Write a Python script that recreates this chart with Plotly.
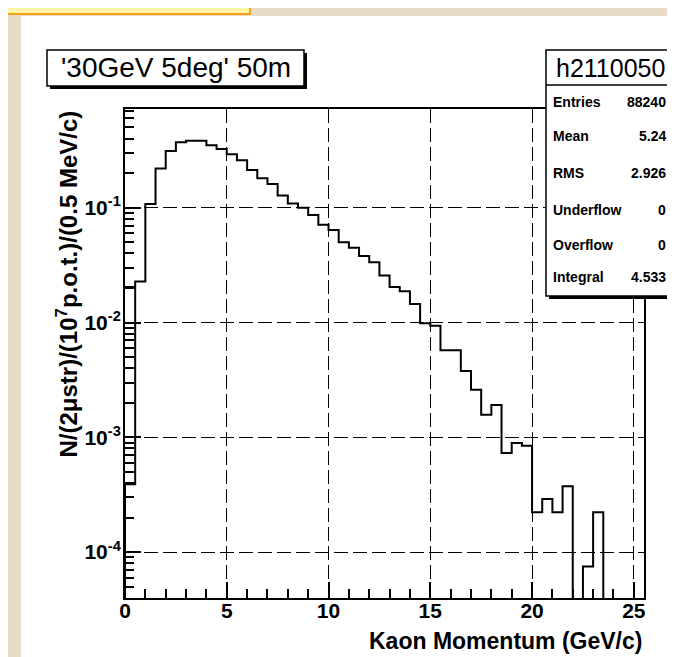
import math
import plotly.graph_objects as go

# ---------------- data ----------------
bin_width = 0.5
bin_low_edge = 0.0
# bin contents, 51 bins of 0.5 GeV/c from 0 to 25.5
counts = [
    0.0204, 0.0228, 0.108, 0.220, 0.312, 0.371, 0.383, 0.383, 0.350, 0.325,
    0.292, 0.259, 0.213, 0.181, 0.161, 0.128, 0.109, 0.100, 0.0866, 0.0712,
    0.0638, 0.0501, 0.0447, 0.0379, 0.0335, 0.0257, 0.0204, 0.0187, 0.0145, 0.00984,
    0.00935, 0.00573, 0.00573, 0.00378, 0.00260, 0.00157, 0.00191, 0.000730, 0.000892, 0.000845,
    0.000222, 0.000290, 0.000222, 0.000374, 0.0, 0.000075, 0.000222, 0.0, 0.0, 0.0,
    0.0,
]
first_bin_low = 0.00039   # lower outline drawn inside the first bin

x_ticks = [0, 5, 10, 15, 20, 25]
y_ticks = [1e-4, 1e-3, 1e-2, 1e-1]
y_tick_text = ["10<sup>-4</sup>", "10<sup>-3</sup>", "10<sup>-2</sup>", "10<sup>-1</sup>"]

title_text = "'30GeV 5deg' 50m"
hist_name = "h2110050"
stat_labels = ["Entries", "Mean", "RMS", "Underflow", "Overflow", "Integral"]
stat_values = ["88240", "5.24", "2.926", "0", "0", "4.533"]
x_title = "Kaon Momentum (GeV/c)"
y_title = "N/(2\u03bcstr)/(10<sup>7</sup>p.o.t.)/(0.5 MeV/c)"

# ---------------- layout geometry ----------------
FW, FH = 675, 657
L, R, T, B = 117, 636, 101, 590
x_range = [0, 25.5]
y_range = [-4.4, -0.14]
floor = 10 ** (y_range[0] - 1)

def pxx(x):
    return (x - L) / (R - L)

def pyy(y):
    return (B - y) / (B - T)

# ---------------- histogram path ----------------
n = len(counts)
edges = [bin_low_edge + i * bin_width for i in range(n + 1)]
vals = [c if c > 0 else floor for c in counts]
xs = [edges[0], edges[0], edges[1], edges[1], edges[0], edges[1]]
ys = [floor, first_bin_low, first_bin_low, vals[0], vals[0], vals[0]]
for i in range(1, n):
    xs += [edges[i], edges[i + 1]]
    ys += [vals[i], vals[i]]
xs.append(edges[-1])
ys.append(floor)

fig = go.Figure()
fig.add_trace(go.Scatter(x=xs, y=ys, mode="lines",
                         line=dict(color="black", width=2),
                         hoverinfo="skip", showlegend=False))

minor_y = [k * 10 ** e for e in range(-5, 0) for k in range(2, 10)
           if y_range[0] <= math.log10(k * 10 ** e) <= y_range[1]]

bold = dict(family="Arial", size=21, color="black", weight="bold")

fig.update_xaxes(range=x_range, tickvals=x_ticks, ticktext=[str(v) for v in x_ticks],
                 ticks="inside", ticklen=16, tickwidth=1.5, tickcolor="black",
                 showline=True, mirror=True, linecolor="black", linewidth=2,
                 showgrid=True, gridcolor="black", gridwidth=1.3, griddash="14px,5px",
                 zeroline=False, tickfont=bold, ticklabelstandoff=-7,
                 minor=dict(dtick=1, ticks="inside", ticklen=9, tickwidth=1.5,
                            tickcolor="black", showgrid=False))
fig.update_yaxes(type="log", range=y_range, tickvals=y_ticks, ticktext=y_tick_text,
                 ticks="inside", ticklen=16, tickwidth=1.5, tickcolor="black",
                 showline=True, mirror=True, linecolor="black", linewidth=2,
                 showgrid=True, gridcolor="black", gridwidth=1.3, griddash="14px,5px",
                 zeroline=False, tickfont=bold, ticklabelstandoff=-2,
                 minor=dict(tickmode="array", tickvals=minor_y, ticks="inside", ticklen=9,
                            tickwidth=1.5, tickcolor="black", showgrid=False))

shapes = []
# background paper texture strips
beige = "#E8DCC6"
shapes.append(dict(type="rect", xref="paper", yref="paper", layer="below",
                   x0=pxx(0), x1=pxx(FW), y0=pyy(0), y1=pyy(8), fillcolor=beige, line_width=0))
shapes.append(dict(type="rect", xref="paper", yref="paper", layer="below",
                   x0=pxx(0), x1=pxx(13), y0=pyy(0), y1=pyy(FH), fillcolor=beige, line_width=0))
shapes.append(dict(type="rect", xref="paper", yref="paper", layer="below",
                   x0=pxx(-5), x1=pxx(242), y0=pyy(-5), y1=pyy(6), fillcolor="#FFF6A6",
                   line=dict(color="#F6A11E", width=2)))
# title box with shadow
shapes.append(dict(type="rect", xref="paper", yref="paper", layer="above",
                   x0=pxx(42), x1=pxx(299), y0=pyy(45), y1=pyy(81), fillcolor="black", line_width=0))
shapes.append(dict(type="rect", xref="paper", yref="paper", layer="above",
                   x0=pxx(39), x1=pxx(296), y0=pyy(42), y1=pyy(78), fillcolor="white",
                   line=dict(color="black", width=1.5)))
# stats box with shadow
shapes.append(dict(type="rect", xref="paper", yref="paper", layer="above",
                   x0=pxx(541), x1=pxx(670), y0=pyy(45), y1=pyy(291), fillcolor="black", line_width=0))
shapes.append(dict(type="rect", xref="paper", yref="paper", layer="above",
                   x0=pxx(538), x1=pxx(667), y0=pyy(42), y1=pyy(288), fillcolor="white",
                   line=dict(color="black", width=1.5)))
shapes.append(dict(type="line", xref="paper", yref="paper", layer="above",
                   x0=pxx(538), x1=pxx(667), y0=pyy(77), y1=pyy(77),
                   line=dict(color="black", width=1.5)))

ann = []
ann.append(dict(text=title_text, xref="paper", yref="paper", x=pxx(167.5), y=pyy(60),
                xanchor="center", yanchor="middle", showarrow=False,
                font=dict(family="Arial", size=28, color="black")))
ann.append(dict(text=hist_name, xref="paper", yref="paper", x=pxx(602.5), y=pyy(60),
                xanchor="center", yanchor="middle", showarrow=False,
                font=dict(family="Arial", size=25, color="black")))
row_y = [94, 128, 165, 201.5, 236.5, 269]
for lab, val, yy in zip(stat_labels, stat_values, row_y):
    ann.append(dict(text=lab, xref="paper", yref="paper", x=pxx(543), y=pyy(yy),
                    xanchor="left", yanchor="middle", showarrow=False,
                    font=dict(family="Arial", size=14, color="black", weight="bold")))
    ann.append(dict(text=val, xref="paper", yref="paper", x=pxx(660), y=pyy(yy),
                    xanchor="right", yanchor="middle", showarrow=False,
                    font=dict(family="Arial", size=14, color="black", weight="bold")))
ann.append(dict(text=x_title, xref="paper", yref="paper", x=1.0, y=pyy(633),
                xanchor="right", yanchor="middle", showarrow=False,
                font=dict(family="Arial", size=23, color="black", weight="bold")))
ann.append(dict(text=y_title, xref="paper", yref="paper", x=pxx(58), y=1.0,
                xanchor="center", yanchor="top", showarrow=False, textangle=-90,
                font=dict(family="Arial", size=24, color="black", weight="bold")))

fig.update_layout(width=FW, height=FH, margin=dict(l=L, r=FW - R, t=T, b=FH - B),
                  paper_bgcolor="white", plot_bgcolor="white",
                  shapes=shapes, annotations=ann, showlegend=False)

fig.write_html("out.html")
